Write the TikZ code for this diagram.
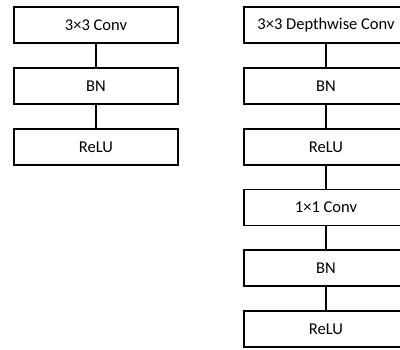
\documentclass[tikz,border=0pt]{standalone}
\usepackage{fontspec}
\setmainfont{Carlito}
\begin{document}
\begin{tikzpicture}[x=1pt,y=-1pt,
  blk/.style={draw=black,line width=1.3pt,fill=white,minimum width=164pt,minimum height=36pt,inner sep=0pt,font=\fontsize{16.5}{18}\selectfont},
  conn/.style={draw=black,line width=1.3pt}]
\useasboundingbox (0,0) rectangle (400,349);
\clip (0,0) rectangle (400,349);
\node[blk] (l1) at (96,25) {3×3 Conv};
\node[blk] (l2) at (96,86) {BN};
\node[blk] (l3) at (96,147) {ReLU};
\node[blk] (r1) at (326,25) {3×3 Depthwise Conv};
\node[blk] (r2) at (326,86) {BN};
\node[blk] (r3) at (326,147) {ReLU};
\node[blk] (r4) at (326,207.5) {1×1 Conv};
\node[blk] (r5) at (326,268) {BN};
\node[blk] (r6) at (326,329) {ReLU};
\draw[conn] (l1) -- (l2);
\draw[conn] (l2) -- (l3);
\draw[conn] (r1) -- (r2);
\draw[conn] (r2) -- (r3);
\draw[conn] (r3) -- (r4);
\draw[conn] (r4) -- (r5);
\draw[conn] (r5) -- (r6);
\end{tikzpicture}
\end{document}
